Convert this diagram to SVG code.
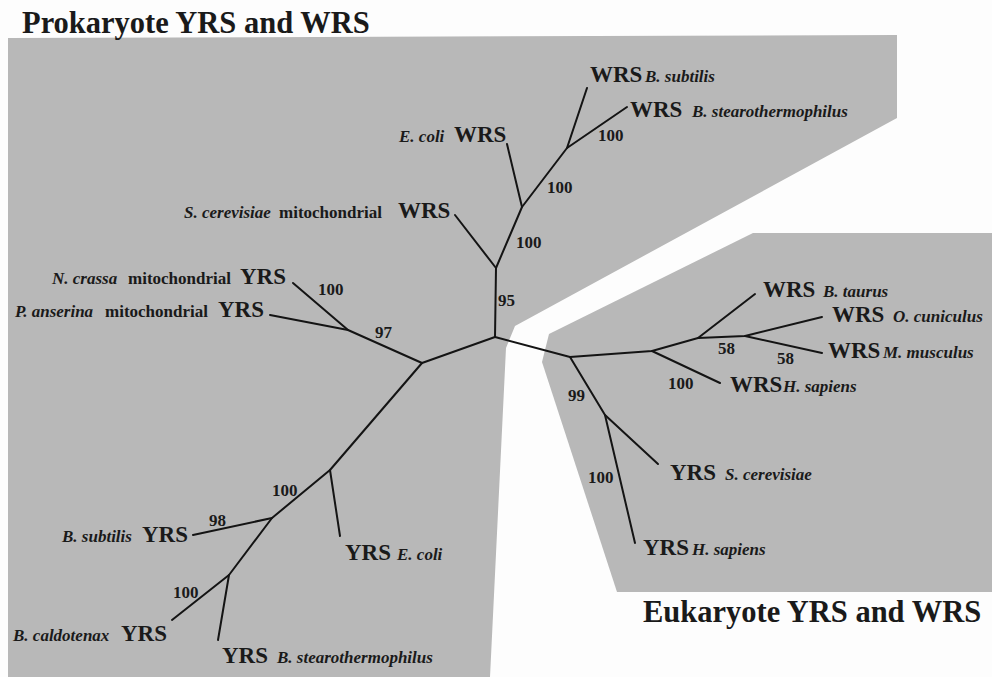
<svg xmlns="http://www.w3.org/2000/svg" width="992" height="677" viewBox="0 0 992 677">
<style>
text{font-family:"Liberation Serif","Times New Roman",serif;fill:#1a1a1a;font-weight:bold}
.t{font-size:30.5px}
.g{font-size:23px}
.s{font-size:17px;font-style:italic}
.m{font-size:17px}
.n{font-size:17px}
.br{stroke:#141414;stroke-width:2;fill:none;stroke-linecap:round;stroke-linejoin:round}
.reg{fill:#b8b8b8}
</style>
<rect width="992" height="677" fill="#fdfdfd"/>
<g id="regions">
<polygon id="prokaryote-region" class="reg" points="8,38 897,35 897,118 515,326 506,348 490,677 8,677"/>
<polygon id="eukaryote-region" class="reg" points="753,233 992,233 992,592 617,592 542,362 549,334"/>
</g>
<g id="titles">
<text id="title-prokaryote" class="t" x="22" y="33">Prokaryote YRS and WRS</text>
<text id="title-eukaryote" class="t" x="643" y="622">Eukaryote YRS and WRS</text>
</g>
<g id="connectors">
<polyline class="br" points="455,215 496,268 495,337 570,357 652,351 698,338 745,336 822,317"/>
<polyline class="br" points="496,268 522,207 567,148 587,88"/>
<line class="br" x1="567" y1="148" x2="627" y2="107"/>
<line class="br" x1="522" y1="207" x2="507" y2="144"/>
<polyline class="br" points="495,337 422,363 348,330 293,283"/>
<line class="br" x1="348" y1="330" x2="270" y2="315"/>
<polyline class="br" points="422,363 330,470 272,518 229,575 172,620"/>
<line class="br" x1="330" y1="470" x2="340" y2="536"/>
<line class="br" x1="272" y1="518" x2="193" y2="535"/>
<line class="br" x1="229" y1="575" x2="218" y2="640"/>
<line class="br" x1="698" y1="338" x2="755" y2="294"/>
<line class="br" x1="745" y1="336" x2="822" y2="353"/>
<line class="br" x1="652" y1="351" x2="720" y2="383"/>
<polyline class="br" points="570,357 605,415 635,543"/>
<line class="br" x1="605" y1="415" x2="658" y2="464"/>
</g>
<g id="bootstrap">
<text class="n" x="598" y="141">100</text>
<text class="n" x="547" y="193">100</text>
<text class="n" x="516" y="248">100</text>
<text class="n" x="498" y="306">95</text>
<text class="n" x="318" y="295">100</text>
<text class="n" x="375" y="338">97</text>
<text class="n" x="272" y="496">100</text>
<text class="n" x="209" y="526">98</text>
<text class="n" x="173" y="598">100</text>
<text class="n" x="718" y="354">58</text>
<text class="n" x="777" y="364">58</text>
<text class="n" x="668" y="389">100</text>
<text class="n" x="568" y="401">99</text>
<text class="n" x="588" y="483">100</text>
</g>
<g id="wrs-bsubtilis"><text y="82"><tspan class="g" x="590">WRS</tspan><tspan class="s" x="645">B. subtilis</tspan></text></g>
<g id="wrs-bstearo"><text y="117"><tspan class="g" x="630">WRS</tspan><tspan class="s" x="692">B. stearothermophilus</tspan></text></g>
<g id="wrs-ecoli"><text y="142"><tspan class="s" x="399">E. coli</tspan><tspan class="g" x="454">WRS</tspan></text></g>
<g id="wrs-scer-mito"><text y="218"><tspan class="s" x="184">S. cerevisiae</tspan><tspan class="m" x="279">mitochondrial</tspan><tspan class="g" x="398">WRS</tspan></text></g>
<g id="yrs-ncrassa-mito"><text y="284"><tspan class="s" x="52">N. crassa</tspan><tspan class="m" x="128">mitochondrial</tspan><tspan class="g" x="240">YRS</tspan></text></g>
<g id="yrs-panserina-mito"><text y="317"><tspan class="s" x="15">P. anserina</tspan><tspan class="m" x="105">mitochondrial</tspan><tspan class="g" x="218">YRS</tspan></text></g>
<g id="yrs-bsubtilis"><text y="542"><tspan class="s" x="62">B. subtilis</tspan><tspan class="g" x="142">YRS</tspan></text></g>
<g id="yrs-ecoli"><text y="560"><tspan class="g" x="345">YRS</tspan><tspan class="s" x="397">E. coli</tspan></text></g>
<g id="yrs-bcaldotenax"><text y="641"><tspan class="s" x="13">B. caldotenax</tspan><tspan class="g" x="121">YRS</tspan></text></g>
<g id="yrs-bstearo"><text y="663"><tspan class="g" x="222">YRS</tspan><tspan class="s" x="277">B. stearothermophilus</tspan></text></g>
<g id="wrs-btaurus"><text y="297"><tspan class="g" x="763">WRS</tspan><tspan class="s" x="823">B. taurus</tspan></text></g>
<g id="wrs-ocuniculus"><text y="322"><tspan class="g" x="832">WRS</tspan><tspan class="s" x="893">O. cuniculus</tspan></text></g>
<g id="wrs-mmusculus"><text y="358"><tspan class="g" x="828">WRS</tspan><tspan class="s" x="883">M. musculus</tspan></text></g>
<g id="wrs-hsapiens"><text y="392"><tspan class="g" x="730">WRS</tspan><tspan class="s" x="783">H. sapiens</tspan></text></g>
<g id="yrs-scerevisiae"><text y="480"><tspan class="g" x="670">YRS</tspan><tspan class="s" x="725">S. cerevisiae</tspan></text></g>
<g id="yrs-hsapiens"><text y="555"><tspan class="g" x="643">YRS</tspan><tspan class="s" x="692">H. sapiens</tspan></text></g>
</svg>
